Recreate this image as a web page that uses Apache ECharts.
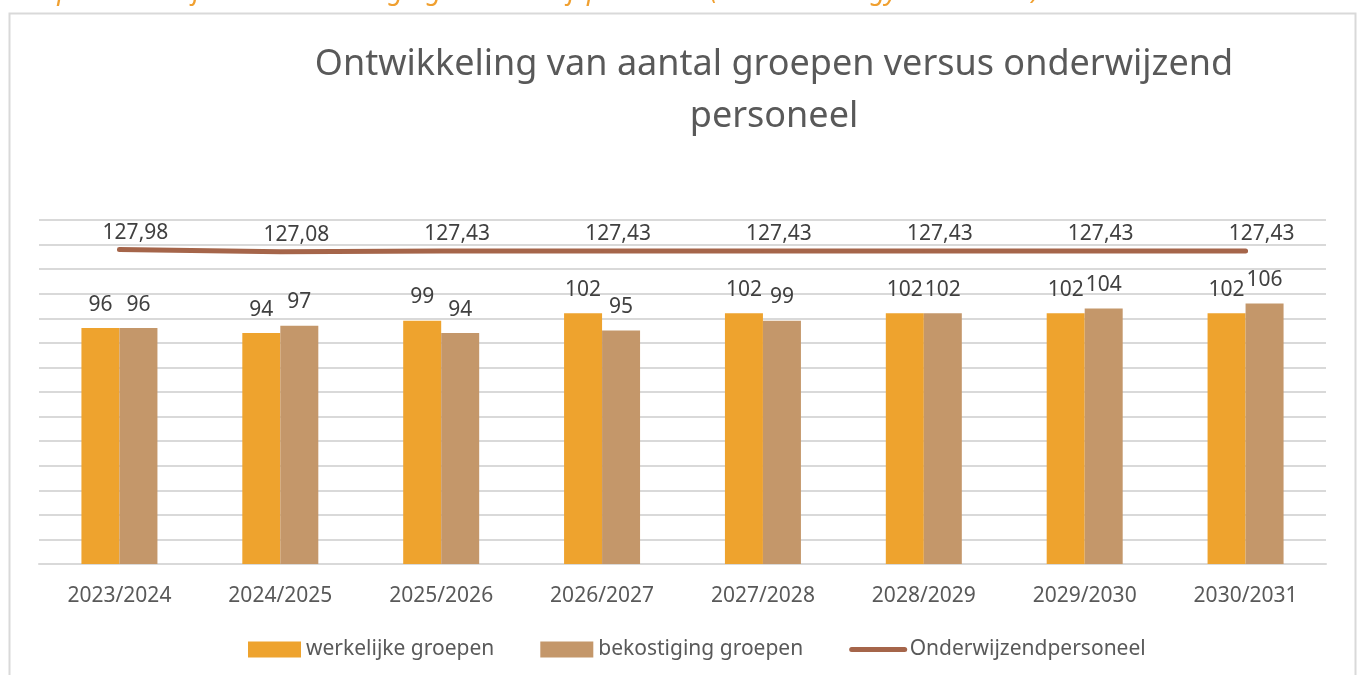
<!DOCTYPE html>
<html lang="nl">

<head>
    <meta charset="utf-8">
    <title>Ontwikkeling van aantal groepen versus onderwijzend personeel</title>
    <script type="text/javascript" src="https://cdn.jsdelivr.net/npm/echarts@6/dist/echarts.min.js"></script>
    <style>
        html, body { margin: 0; padding: 0; background: #fff; }
        #chart { width: 1360px; height: 675px; }
    </style>
</head>

<body>
    <div id="chart"></div>

    <script>
        const years = ['2023/2024', '2024/2025', '2025/2026', '2026/2027', '2027/2028', '2028/2029', '2029/2030', '2030/2031'];
        const werkelijkeGroepen = [96, 94, 99, 102, 102, 102, 102, 102];
        const bekostigingGroepen = [96, 97, 94, 95, 99, 102, 104, 106];
        const onderwijzendPersoneel = [127.98, 127.08, 127.43, 127.43, 127.43, 127.43, 127.43, 127.43];

        const font = '"Noto Sans", sans-serif';
        const chart = echarts.init(document.getElementById('chart'));

        const option = {
            backgroundColor: '#fff',
            textStyle: { fontFamily: font },
            title: {
                text: 'Ontwikkeling van aantal groepen versus onderwijzend\npersoneel',
                left: 769,
                top: 34,
                textAlign: 'center',
                textStyle: { fontSize: 36, fontWeight: 'normal', color: '#595959', lineHeight: 52, fontFamily: font }
            },
            graphic: [{
                type: 'text',
                left: 0,
                top: -22,
                style: {
                    text: 'Groepen werkelijk versus bekostiging + onderwijspersoneel (LB-LC – excl. gymdocenten)',
                    fill: '#F0A030',
                    font: 'italic 27px "Noto Sans", sans-serif'
                }
            }, {
                type: 'rect',
                left: 7,
                top: 11,
                shape: { width: 1346, height: 700 },
                style: { fill: 'none', stroke: '#D9D9D9', lineWidth: 2 },
                silent: true
            }],
            legend: {
                bottom: 10,
                left: 243,
                itemWidth: 53,
                itemHeight: 16,
                itemGap: 46,
                textStyle: { fontSize: 21, color: '#595959', fontFamily: font },
                data: [
                    { name: 'werkelijke groepen', icon: 'rect' },
                    { name: 'bekostiging groepen', icon: 'rect' },
                    { name: 'Onderwijzendpersoneel', itemStyle: { opacity: 0 }, lineStyle: { width: 5, cap: 'round' } }
                ]
            },
            grid: { left: 39, right: 34, top: 220, bottom: 111 },
            xAxis: {
                type: 'category',
                data: years,
                axisTick: { show: false },
                axisLine: { lineStyle: { color: '#D9D9D9', width: 2 } },
                axisLabel: { fontSize: 21, color: '#595959', margin: 22, fontFamily: font }
            },
            yAxis: {
                type: 'value',
                min: 0,
                max: 140,
                interval: 10,
                axisLabel: { show: false },
                axisLine: { show: false },
                axisTick: { show: false },
                splitLine: { lineStyle: { color: '#D9D9D9', width: 2 } }
            },
            series: [{
                name: 'werkelijke groepen',
                type: 'bar',
                data: werkelijkeGroepen,
                barWidth: 38,
                barGap: '0%',
                itemStyle: { color: '#EEA32E' },
                label: { show: true, position: 'top', distance: 13, fontSize: 21, color: '#404040', fontFamily: font }
            }, {
                name: 'bekostiging groepen',
                type: 'bar',
                data: bekostigingGroepen,
                barWidth: 38,
                itemStyle: { color: '#C4976A' },
                label: { show: true, position: 'top', distance: 13, fontSize: 21, color: '#404040', fontFamily: font }
            }, {
                name: 'Onderwijzendpersoneel',
                type: 'line',
                data: onderwijzendPersoneel,
                symbol: 'circle',
                symbolSize: 2,
                showSymbol: true,
                lineStyle: { color: '#A5654A', width: 5, cap: 'round' },
                itemStyle: { color: '#A5654A' },
                label: {
                    show: true,
                    position: 'top',
                    distance: 5,
                    offset: [16, 0],
                    fontSize: 21,
                    color: '#404040',
                    fontFamily: font,
                    formatter: function (p) { return p.value.toFixed(2).replace('.', ','); }
                }
            }]
        };

        chart.setOption(option);
    </script>
</body>

</html>
